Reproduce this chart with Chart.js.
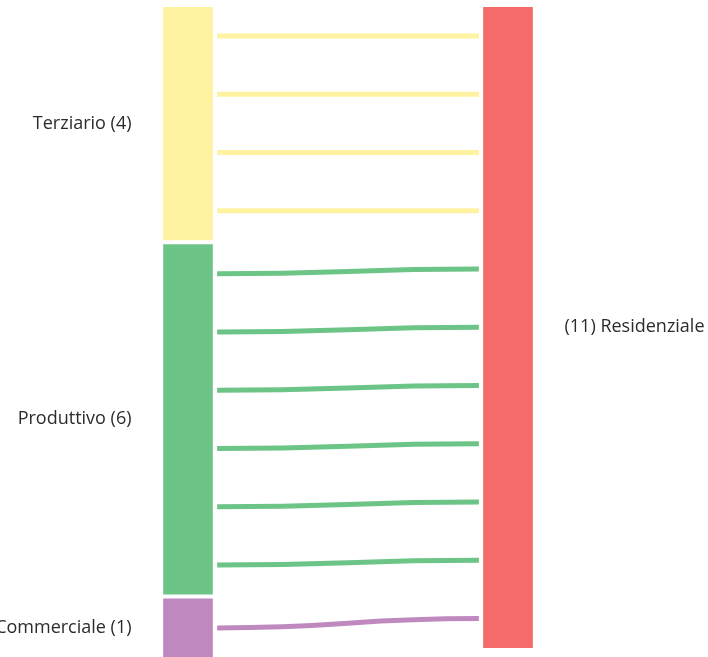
<!DOCTYPE html>
<html>
<head>
<meta charset="utf-8">
<script src="https://cdn.jsdelivr.net/npm/chart.js@4"></script>
<style>
body { margin: 0; background: #fff; }
#wrap { width: 708px; height: 657px; position: relative; }
</style>
</head>
<body>
<div id="wrap"><canvas id="myChart"></canvas></div>
<script>
const sources = ['Terziario', 'Produttivo', 'Commerciale'];
const flows = [4, 6, 1];
const target = 'Residenziale';
const sourceColors = ['#fff3a1', '#6dc487', '#bf89bf'];
const targetColor = '#f46b69';

const gap = 0.08;     // space between the left nodes (flow units)
const inset = 0.091;  // links stop a bit before the nodes

// nodes: left column stacked, right column one block
var nodes = [];
var nodeColors = [];
var nodeLabels = [];
var pos = 0;
for (var i = 0; i < sources.length; i++) {
  nodes.push({x: 0, y: [pos, pos + flows[i]]});
  nodeColors.push(sourceColors[i]);
  nodeLabels.push(sources[i] + ' (' + flows[i] + ')');
  pos += flows[i] + gap;
}
var total = flows.reduce((a, b) => a + b, 0);
nodes.push({x: 1, y: [0, total]});
nodeColors.push(targetColor);
nodeLabels.push('(' + total + ') ' + target);

// one thin link for each unit of flow
var links = [];
var left = 0, right = 0;
for (var i = 0; i < sources.length; i++) {
  for (var k = 0; k < flows[i]; k++) {
    links.push({
      type: 'line',
      link: true,
      data: [{x: inset, y: left + k + 0.5}, {x: 1 - inset, y: right + 0.5}],
      borderColor: sourceColors[i],
      borderWidth: 5,
      pointRadius: 0,
      showLine: false
    });
    right++;
  }
  left += flows[i] + gap;
}

const linkCurves = {
  id: 'linkCurves',
  afterDatasetsDraw(chart) {
    var ctx = chart.ctx;
    chart.data.datasets.forEach(function(ds, i) {
      if (!ds.link) return;
      var pts = chart.getDatasetMeta(i).data;
      var a = pts[0], b = pts[1];
      var mx = (a.x + b.x) / 2;
      ctx.save();
      ctx.beginPath();
      ctx.moveTo(a.x, a.y);
      ctx.bezierCurveTo(mx, a.y, mx, b.y, b.x, b.y);
      ctx.strokeStyle = ds.borderColor;
      ctx.lineWidth = ds.borderWidth;
      ctx.lineCap = 'butt';
      ctx.stroke();
      ctx.restore();
    });
  }
};

const nodeText = {
  id: 'nodeText',
  afterDraw(chart) {
    var ctx = chart.ctx;
    var bars = chart.getDatasetMeta(0).data;
    ctx.save();
    ctx.font = '18px "Open Sans"';
    ctx.fillStyle = '#2b2b2b';
    ctx.textBaseline = 'middle';
    bars.forEach(function(bar, i) {
      var cy = (bar.y + bar.base) / 2;
      if (nodes[i].x === 0) {
        ctx.textAlign = 'right';
        ctx.fillText(nodeLabels[i], bar.x - bar.width / 2 - 32, cy);
      } else {
        ctx.textAlign = 'left';
        ctx.fillText(nodeLabels[i], bar.x + bar.width / 2 + 32, cy);
      }
    });
    ctx.restore();
  }
};

var ctx = document.getElementById('myChart').getContext('2d');
var myChart = new Chart(ctx, {
  type: 'bar',
  data: {
    datasets: [{
      data: nodes,
      backgroundColor: nodeColors,
      barThickness: 49,
      borderWidth: 0
    }].concat(links)
  },
  options: {
    responsive: true,
    maintainAspectRatio: false,
    animation: false,
    layout: { padding: { top: 7, bottom: 0, left: 0, right: 0 } },
    plugins: { legend: { display: false }, tooltip: { enabled: false } },
    scales: {
      x: { type: 'linear', offset: false, min: -0.5875, max: 1.625, display: false },
      y: { type: 'linear', min: 0, max: total + 2 * gap, reverse: true, display: false }
    }
  },
  plugins: [linkCurves, nodeText]
});
</script>
</body>
</html>
